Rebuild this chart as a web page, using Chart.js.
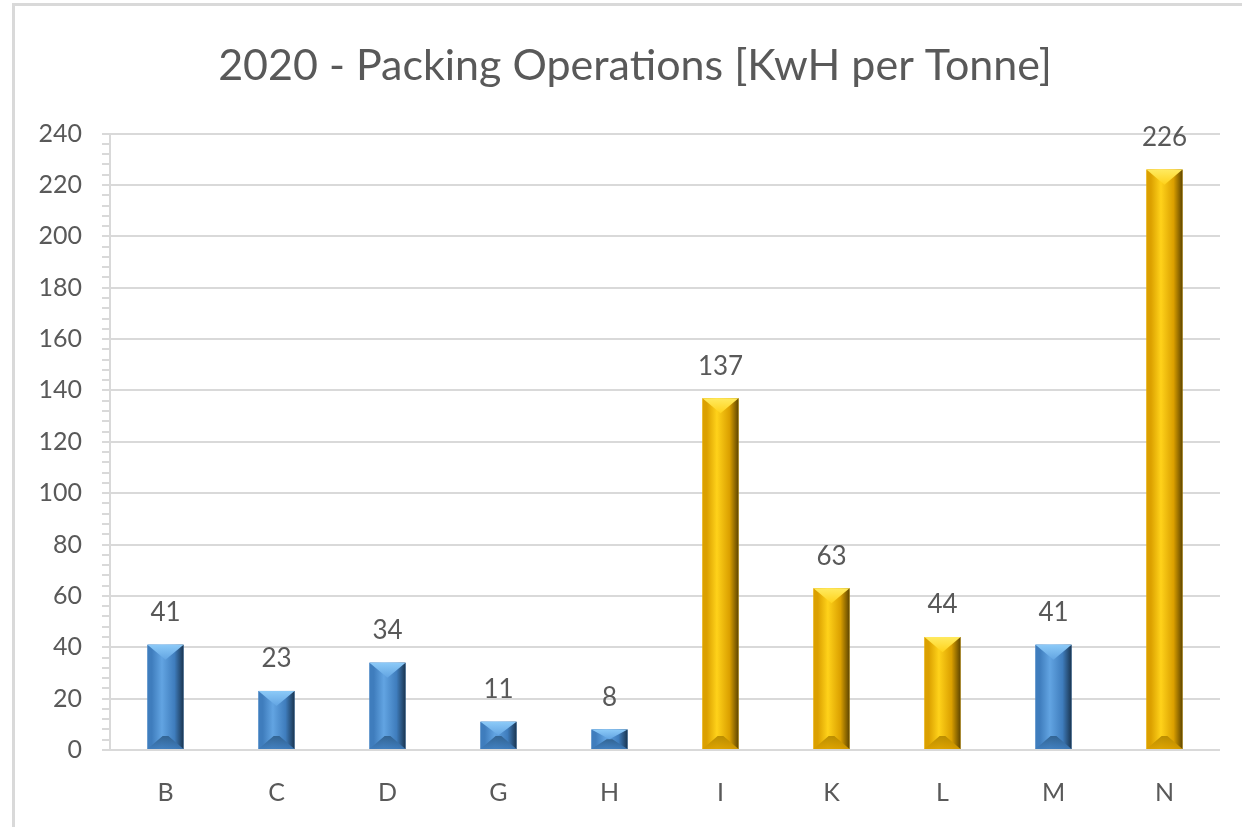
<!DOCTYPE html>
<html>
<head>
<meta charset="utf-8">
<script src="https://cdn.jsdelivr.net/npm/chart.js@4/dist/chart.umd.min.js"></script>
<style>
  html, body { margin: 0; padding: 0; background: #ffffff; }
  #wrap { position: relative; width: 1242px; height: 827px; background: #fff; }
  #frame { position: absolute; left: 12px; top: 3px; width: 1230px; height: 824px;
           border-left: 3px solid #d9d9d9; border-top: 3px solid #d9d9d9; box-sizing: border-box; }
  canvas { position: absolute; left: 0; top: 0; }
</style>
</head>
<body>
<div id="wrap">
  <div id="frame"></div>
  <canvas id="c" width="1242" height="827"></canvas>
</div>
<script>
const titleText = '2020 - Packing Operations [KwH per Tonne]';
const categories = ['B', 'C', 'D', 'G', 'H', 'I', 'K', 'L', 'M', 'N'];
const values = [41, 23, 34, 11, 8, 137, 63, 44, 41, 226];
const groups = ['blue', 'blue', 'blue', 'blue', 'blue', 'gold', 'gold', 'gold', 'blue', 'gold'];
const yMin = 0, yMax = 240, yMajor = 20, yMinor = 4;

const palette = {
  blue: { left: '#3f7dbd', mid: '#62a4e2', right: '#1a3550', top: '#8ccaf8', bottom: '#2f5f8c', solid: '#4f8fd0' },
  gold: { left: '#dba000', mid: '#ffd21a', right: '#5e4500', top: '#ffea60', bottom: '#b48800', solid: '#ffc000' }
};
const FONT = 'Lato, "Open Sans", "Liberation Sans", sans-serif';
const TXT = '#595959';

const titleShift = {
  id: 'titleShift',
  afterLayout(chart) {
    if (chart.titleBlock) chart.titleBlock.left += 38;
  }
};

const bevelPlugin = {
  id: 'bevel',
  afterDatasetsDraw(chart) {
    const ctx = chart.ctx;
    const meta = chart.getDatasetMeta(0);
    meta.data.forEach((bar, i) => {
      const p = palette[groups[i]];
      const w = bar.width, x0 = bar.x - w / 2, x1 = bar.x + w / 2;
      const top = bar.y, base = bar.base, h = base - top;
      ctx.save();
      const g = ctx.createLinearGradient(x0, 0, x1, 0);
      g.addColorStop(0, p.left);
      g.addColorStop(0.12, p.left);
      g.addColorStop(0.4, p.mid);
      g.addColorStop(0.75, p.left);
      g.addColorStop(1, p.right);
      ctx.fillStyle = g;
      ctx.fillRect(x0, top, w, h);
      const d = Math.min(w * 0.42, h / 2);
      const gt = ctx.createLinearGradient(0, top, 0, top + d);
      gt.addColorStop(0, p.top);
      gt.addColorStop(1, p.mid);
      ctx.fillStyle = gt;
      ctx.beginPath();
      ctx.moveTo(x0, top); ctx.lineTo(x1, top); ctx.lineTo(bar.x, top + d); ctx.closePath();
      ctx.fill();
      const db = Math.min(w * 0.36, h / 2);
      const gb = ctx.createLinearGradient(0, base - db, 0, base);
      gb.addColorStop(0, p.bottom);
      gb.addColorStop(1, p.left);
      ctx.fillStyle = gb;
      ctx.globalAlpha = 0.9;
      ctx.beginPath();
      ctx.moveTo(x0, base); ctx.lineTo(x1, base);
      ctx.lineTo(bar.x + w * 0.08, base - db); ctx.lineTo(bar.x - w * 0.08, base - db);
      ctx.closePath();
      ctx.fill();
      ctx.restore();
      ctx.save();
      ctx.fillStyle = TXT;
      ctx.font = '26px ' + FONT;
      ctx.textAlign = 'center';
      ctx.textBaseline = 'middle';
      ctx.fillText(String(values[i]), bar.x, top - 32);
      ctx.restore();
    });
  }
};

new Chart(document.getElementById('c'), {
  type: 'bar',
  data: {
    labels: categories,
    datasets: [{
      data: values,
      backgroundColor: groups.map(g => palette[g].solid),
      borderWidth: 0,
      barPercentage: 0.325,
      categoryPercentage: 1
    }]
  },
  options: {
    responsive: false,
    animation: false,
    devicePixelRatio: 1,
    layout: { padding: { left: 12, right: 22, top: 4, bottom: 0 } },
    plugins: {
      legend: { display: false },
      tooltip: { enabled: false },
      title: {
        display: true,
        text: titleText,
        color: TXT,
        font: { family: FONT, size: 43, weight: 'normal' },
        padding: { top: 36, bottom: 42 }
      }
    },
    scales: {
      x: {
        grid: { display: false, drawTicks: false },
        border: { display: false },
        ticks: { color: TXT, font: { family: FONT, size: 25 }, padding: 28 },
        afterFit(s) { s.height = 77; }
      },
      y: {
        min: yMin, max: yMax,
        afterBuildTicks(s) {
          const t = [];
          for (let v = yMin; v <= yMax; v += yMinor) t.push({ value: v });
          s.ticks = t;
        },
        grid: {
          color: c => (c.tick && c.tick.value % yMajor === 0) ? '#d9d9d9' : 'rgba(0,0,0,0)',
          tickColor: '#d9d9d9',
          lineWidth: 2,
          tickLength: 8,
          drawTicks: true
        },
        border: { display: true, color: '#d9d9d9', width: 2 },
        ticks: {
          autoSkip: false,
          color: TXT,
          font: { family: FONT, size: 25 },
          padding: 20,
          callback: v => (v % yMajor === 0 ? String(v) : '')
        },
        afterFit(s) { s.width = 98; }
      }
    }
  },
  plugins: [titleShift, bevelPlugin]
});
</script>
</body>
</html>
